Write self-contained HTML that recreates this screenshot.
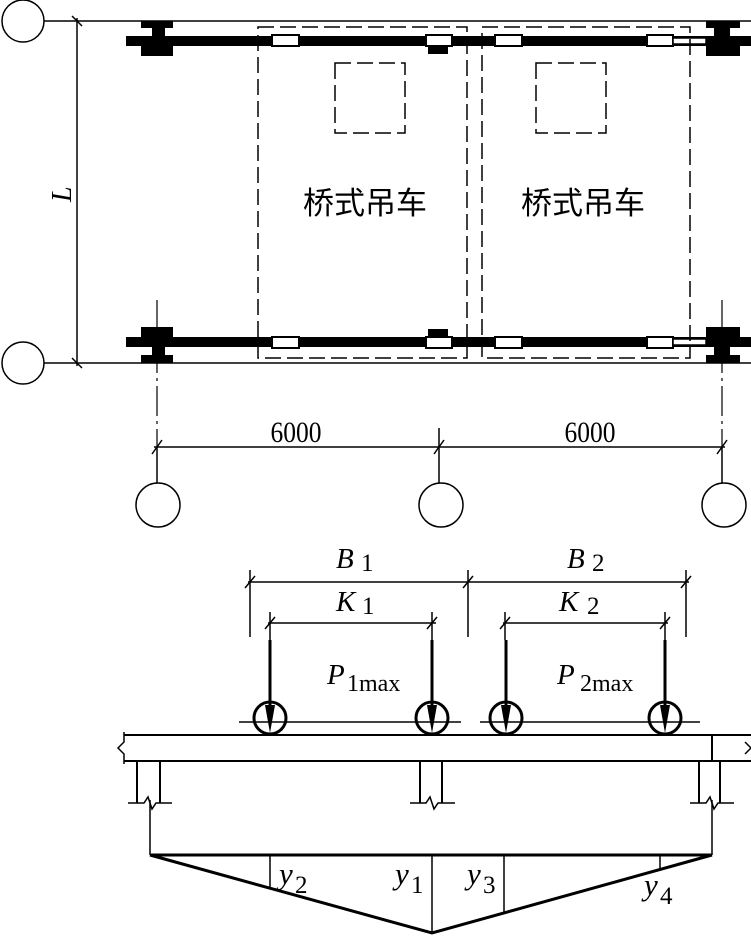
<!DOCTYPE html>
<html><head><meta charset="utf-8"><style>html,body{margin:0;padding:0;background:#fff}svg{display:block}</style></head>
<body>
<svg width="751" height="936" viewBox="0 0 751 936" xmlns="http://www.w3.org/2000/svg" font-family="Liberation Serif, serif">
<g stroke="#000" fill="none" stroke-width="1.5">
<circle cx="23" cy="21" r="21"/>
<circle cx="23" cy="363" r="21"/>
<line x1="44" y1="21" x2="751" y2="21"/>
<line x1="44" y1="363" x2="751" y2="363"/>
<line x1="77" y1="18" x2="77" y2="366"/>
<line x1="72" y1="16" x2="82" y2="26"/>
<line x1="72" y1="358" x2="82" y2="368"/>
</g>
<text x="0" y="0" font-size="28" font-style="italic" transform="translate(71,202) rotate(-90)">L</text>
<g fill="#000">
<rect x="126" y="36" width="625" height="10"/>
<rect x="126" y="337" width="625" height="10"/>
<rect x="141" y="21" width="32" height="7"/><rect x="152" y="27" width="13" height="10"/><rect x="141" y="45" width="32" height="11"/>
<rect x="141" y="327" width="32" height="11"/><rect x="152" y="346" width="13" height="10"/><rect x="141" y="355" width="32" height="8"/>
<rect x="706" y="21" width="34" height="7"/><rect x="714" y="27" width="16" height="10"/><rect x="706" y="45" width="34" height="11"/>
<rect x="706" y="327" width="34" height="11"/><rect x="714" y="346" width="16" height="10"/><rect x="706" y="355" width="34" height="8"/>
<rect x="428" y="46" width="20" height="8"/><rect x="428" y="329" width="20" height="8"/>
</g>
<g fill="#fff" stroke="#000" stroke-width="2">
<rect x="272" y="35" width="27" height="11"/><rect x="426" y="35" width="26" height="11"/>
<rect x="495" y="35" width="27" height="11"/><rect x="647" y="35" width="26" height="11"/>
<rect x="272" y="337" width="27" height="11"/><rect x="426" y="337" width="26" height="11"/>
<rect x="495" y="337" width="27" height="11"/><rect x="647" y="337" width="26" height="11"/>
<rect x="673" y="38" width="33" height="6" stroke-width="1.5"/><rect x="673" y="339" width="33" height="6" stroke-width="1.5"/>
</g>
<g stroke="#000" fill="none" stroke-width="1.5" stroke-dasharray="16,6">
<rect x="258" y="27" width="209" height="331"/>
<rect x="482" y="27" width="208" height="331"/>
<rect x="335" y="63" width="70" height="70"/>
<rect x="536" y="63" width="70" height="70"/>
</g>
<g stroke="#000" stroke-width="1.2" stroke-dasharray="30,5,3,5">
<line x1="157" y1="300" x2="157" y2="447"/>
<line x1="722" y1="300" x2="722" y2="447"/>
</g>
<text x="365" y="214" font-size="31" text-anchor="middle" font-family="Liberation Sans, Noto Sans CJK SC, sans-serif">桥式吊车</text>
<text x="583" y="214" font-size="31" text-anchor="middle" font-family="Liberation Sans, Noto Sans CJK SC, sans-serif">桥式吊车</text>
<g stroke="#000" fill="none" stroke-width="1.5">
<line x1="154" y1="447" x2="725" y2="447"/>
<line x1="157" y1="447" x2="157" y2="483"/>
<line x1="439" y1="428" x2="439" y2="483"/>
<line x1="722" y1="447" x2="722" y2="483"/>
<line x1="152" y1="454" x2="162" y2="440"/><line x1="434" y1="454" x2="444" y2="440"/><line x1="717" y1="454" x2="727" y2="440"/>
<circle cx="158" cy="505" r="22"/><circle cx="441" cy="505" r="22"/><circle cx="724" cy="505" r="22"/>
</g>
<text x="296" y="442" font-size="30" text-anchor="middle" transform="translate(296,442) scale(0.85,1) translate(-296,-442)">6000</text>
<text x="590" y="442" font-size="30" text-anchor="middle" transform="translate(590,442) scale(0.85,1) translate(-590,-442)">6000</text>
<g stroke="#000" fill="none" stroke-width="1.5">
<line x1="248" y1="582" x2="689" y2="582"/>
<line x1="250" y1="570" x2="250" y2="637"/><line x1="468" y1="570" x2="468" y2="637"/><line x1="686" y1="570" x2="686" y2="637"/>
<line x1="245" y1="588" x2="255" y2="576"/><line x1="463" y1="588" x2="473" y2="576"/><line x1="681" y1="588" x2="691" y2="576"/>
<line x1="268" y1="623" x2="436" y2="623"/><line x1="503" y1="623" x2="668" y2="623"/>
<line x1="270" y1="612" x2="270" y2="640"/><line x1="432" y1="612" x2="432" y2="640"/>
<line x1="505" y1="612" x2="505" y2="640"/><line x1="665" y1="612" x2="665" y2="640"/>
<line x1="265" y1="629" x2="275" y2="617"/><line x1="427" y1="629" x2="437" y2="617"/>
<line x1="500" y1="629" x2="510" y2="617"/><line x1="660" y1="629" x2="670" y2="617"/>
</g>
<g font-size="29" font-style="italic">
<text x="336" y="568">B</text><text x="361" y="571" font-style="normal" font-size="25">1</text>
<text x="567" y="568">B</text><text x="592" y="571" font-style="normal" font-size="25">2</text>
<text x="336" y="611">K</text><text x="362" y="614" font-style="normal" font-size="25">1</text>
<text x="559" y="611">K</text><text x="587" y="614" font-style="normal" font-size="25">2</text>
<text x="327" y="684">P</text><text x="347" y="691" font-style="normal" font-size="24">1max</text>
<text x="557" y="684">P</text><text x="580" y="691" font-style="normal" font-size="24">2max</text>
</g>
<g stroke="#000" fill="none">
<line x1="239" y1="722" x2="461" y2="722" stroke-width="1.5"/>
<line x1="480" y1="722" x2="700" y2="722" stroke-width="1.5"/>
<g stroke-width="3">
<ellipse cx="270" cy="718" rx="16" ry="16"/><ellipse cx="432" cy="718" rx="16" ry="16"/>
<ellipse cx="506" cy="718" rx="16" ry="16"/><ellipse cx="665" cy="718" rx="16" ry="16"/>
<line x1="270" y1="640" x2="270" y2="722"/><line x1="432" y1="640" x2="432" y2="722"/>
<line x1="506" y1="640" x2="506" y2="722"/><line x1="665" y1="640" x2="665" y2="722"/>
</g>
</g>
<g fill="#000">
<polygon points="265,705 275,705 270,733"/><polygon points="427,705 437,705 432,733"/>
<polygon points="501,705 511,705 506,733"/><polygon points="660,705 670,705 665,733"/>
</g>
<g stroke="#000" fill="none" stroke-width="2">
<line x1="124" y1="735" x2="751" y2="735"/>
<line x1="124" y1="761" x2="751" y2="761"/>
<line x1="712" y1="735" x2="712" y2="761"/>
<polyline points="124,732 124,742 118,748 124,754 124,764" stroke-width="1.5"/>
<polyline points="745,742 751,748 745,754" stroke-width="1.5"/>
<line x1="137" y1="761" x2="137" y2="803"/><line x1="160" y1="761" x2="160" y2="803"/>
<line x1="420" y1="761" x2="420" y2="803"/><line x1="442" y1="761" x2="442" y2="803"/>
<line x1="699" y1="761" x2="699" y2="803"/><line x1="720" y1="761" x2="720" y2="803"/>
<polyline points="128,803 144,803 148,797 152,809 156,803 172,803" stroke-width="1.5"/>
<polyline points="410,803 426,803 430,797 434,809 438,803 455,803" stroke-width="1.5"/>
<polyline points="690,803 706,803 710,797 714,809 718,803 734,803" stroke-width="1.5"/>
</g>
<g stroke="#000" fill="none">
<line x1="150" y1="800" x2="150" y2="855" stroke-width="1.5"/>
<line x1="712" y1="800" x2="712" y2="855" stroke-width="1.5"/>
<line x1="150" y1="855" x2="712" y2="855" stroke-width="3"/>
<polyline points="150,855 432,933 712,855" stroke-width="3"/>
<line x1="270" y1="855" x2="270" y2="888" stroke-width="1.5"/>
<line x1="432" y1="855" x2="432" y2="933" stroke-width="1.5"/>
<line x1="504" y1="855" x2="504" y2="913" stroke-width="1.5"/>
<line x1="660" y1="855" x2="660" y2="869" stroke-width="1.5"/>
</g>
<g font-size="31" font-style="italic">
<text x="279" y="884">y</text><text x="295" y="893" font-style="normal" font-size="25">2</text>
<text x="395" y="884">y</text><text x="411" y="893" font-style="normal" font-size="25">1</text>
<text x="467" y="884">y</text><text x="483" y="893" font-style="normal" font-size="25">3</text>
<text x="644" y="895">y</text><text x="660" y="904" font-style="normal" font-size="25">4</text>
</g>
</svg>
</body></html>
